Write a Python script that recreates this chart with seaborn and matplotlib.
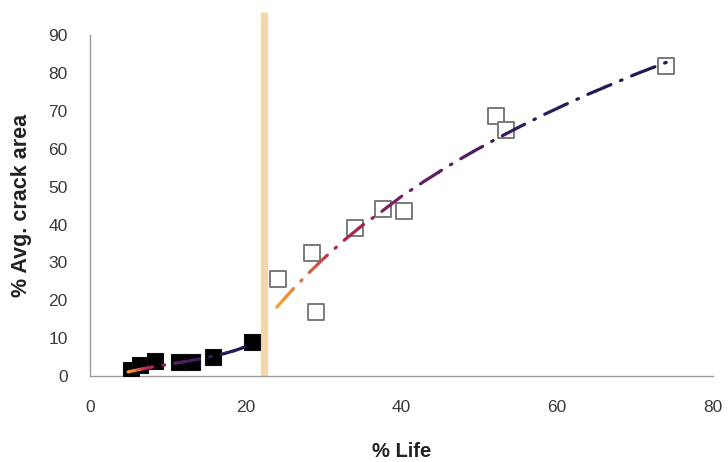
import numpy as np
import pandas as pd
import matplotlib
matplotlib.use("Agg")
import matplotlib.pyplot as plt
from matplotlib.patches import Rectangle
from matplotlib.colors import LinearSegmentedColormap
import seaborn as sns

# ---- data ----
filled_x = [5.3, 6.4, 8.3, 11.5, 13.1, 15.8, 20.8]
filled_y = [1.5, 3.0, 4.0, 3.7, 3.6, 5.0, 9.0]

open_x = [24.1, 28.5, 29.0, 34.1, 37.7, 40.4, 52.2, 53.5, 74.0]
open_y = [25.6, 32.4, 16.9, 39.0, 44.0, 43.5, 68.6, 65.0, 81.8]

fit1_x = [4.9, 6.5, 8.0, 9.5, 11.0, 13.0, 15.0, 17.0, 18.7, 20.5]
fit1_y = [1.1, 1.8, 2.4, 2.9, 3.4, 4.1, 4.9, 5.8, 6.8, 8.1]

fit2_x = [24.0, 26.0, 28.0, 30.0, 32.5, 35.0, 37.5, 40.0, 43.0, 46.0,
          49.0, 52.0, 55.0, 58.0, 61.0, 64.0, 67.0, 70.0, 72.0, 74.3]
fit2_y = [18.2, 22.8, 27.0, 31.0, 35.6, 39.8, 43.5, 47.4, 51.5, 55.4,
          59.0, 62.4, 65.6, 68.7, 71.6, 74.4, 77.0, 79.6, 81.2, 83.0]

transition_x = 22.4

x_ticks = [0, 20, 40, 60, 80]
y_ticks = [0, 10, 20, 30, 40, 50, 60, 70, 80, 90]

# ---- style ----
sns.set_style("white")
plt.rcParams["font.family"] = ["Liberation Sans", "DejaVu Sans"]
plt.rcParams["lines.scale_dashes"] = False

fig = plt.figure(figsize=(7.28, 4.62), dpi=100)
ax = fig.add_axes([0.1236, 0.186, 0.979 - 0.1236, 0.924 - 0.186])

ax.set_xlim(0, 80)
ax.set_ylim(0, 90)

# transition band
ax.axvline(transition_x, ymin=0, ymax=1.068, color="#f4d9a6", lw=5.2,
           clip_on=False, zorder=1, solid_capstyle="butt")

# markers
sns.scatterplot(x=filled_x, y=filled_y, ax=ax, marker="s", s=120,
                color="black", edgecolor="#111111", linewidth=0.8, zorder=3)
sns.scatterplot(x=open_x, y=open_y, ax=ax, marker="s", s=140,
                facecolor="white", edgecolor="#7a7a7a", linewidth=1.4, zorder=3)

# gradient dash-dot fit lines
cmap = LinearSegmentedColormap.from_list(
    "fit", [(0.0, "#f2a62a"), (0.10, "#e87a34"), (0.22, "#b8284c"),
            (0.42, "#6a1f66"), (0.70, "#2e1c5c"), (1.0, "#1c1a4c")])
dash = (0, (18, 7.5, 1.2, 7.5))


def gradient_line(xs, ys, nbins=48):
    df = pd.DataFrame({"x": xs, "y": ys})
    x0, x1 = min(xs), max(xs)
    edges = np.linspace(x0 - 0.3, x1 + 0.3, nbins + 1)
    for i in range(nbins):
        t = ((edges[i] + edges[i + 1]) / 2 - x0) / (x1 - x0)
        t = min(max(t, 0), 1) ** 0.8
        n_before = len(ax.lines)
        sns.lineplot(data=df, x="x", y="y", ax=ax, sort=False, estimator=None,
                     color=cmap(t), lw=2.3, zorder=4)
        line = ax.lines[n_before]
        line.set_linestyle(dash)
        line.set_dash_capstyle("round")
        rect = Rectangle((edges[i] - 0.02, -50), edges[i + 1] - edges[i] + 0.04, 300,
                         transform=ax.transData)
        line.set_clip_path(rect)


gradient_line(fit1_x, fit1_y)
gradient_line(fit2_x, fit2_y)

# axes styling
for side in ["top", "right"]:
    ax.spines[side].set_visible(False)
for side in ["left", "bottom"]:
    ax.spines[side].set_color("#9a9a9a")
    ax.spines[side].set_linewidth(1.0)

ax.set_xticks(x_ticks)
ax.set_yticks(y_ticks)
ax.tick_params(axis="both", direction="out", length=4, width=1.0,
               color="#9a9a9a", labelcolor="#3a3a3a", labelsize=12.5)
ax.tick_params(axis="x", pad=13)
ax.tick_params(axis="y", pad=12)

ax.set_xlabel("% Life", fontsize=14.5, fontweight="bold", color="#222222", labelpad=20)
ax.set_ylabel("% Avg. crack area", fontsize=15.5, fontweight="bold", color="#222222",
              labelpad=12)

fig.savefig("out.png", dpi=100)
